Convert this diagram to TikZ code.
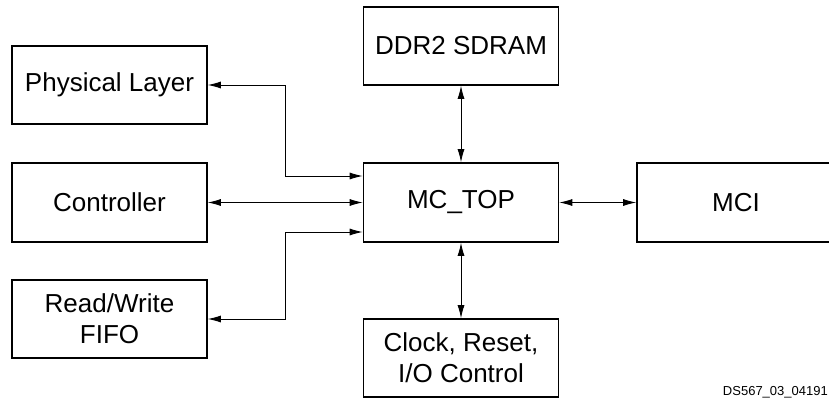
\documentclass[tikz,border=0pt]{standalone}
\usepackage{fontspec}
\setmainfont{Liberation Sans}
\usetikzlibrary{arrows.meta,calc}
\tikzset{
  blk/.style={draw, line width=1.6pt, minimum width=195pt, minimum height=78pt,
    inner sep=0pt, align=center, font=\fontsize{26}{31}\selectfont},
  conn/.style={line width=0.9pt, {Latex[length=13pt,width=7pt]}-{Latex[length=13pt,width=7pt]}},
}
\begin{document}
\begin{tikzpicture}[x=1pt,y=-1pt]
\useasboundingbox (0,0) rectangle (829,401);
\node[blk] (phys) at (109.5,85) {Physical Layer};
\node[blk, minimum height=79pt] (ctrl) at (109.5,202.5) {Controller};
\node[blk] (fifo) at (109.5,319) {Read/Write\\FIFO};
\node[blk] (ddr) at (461,46) {DDR2 SDRAM};
\node[blk, minimum height=79pt] (mctop) at (461,202.5) {MC\_TOP};
\node[blk, minimum height=79pt, minimum width=198pt] (mci) at (736,202.5) {MCI};
\node[blk] (clk) at (461,358) {Clock, Reset,\\I/O Control};
\node[anchor=base east, inner sep=0pt, font=\fontsize{13}{15}\selectfont] (lbl) at (828,395) {DS567\_03\_04191};
\draw[conn] (phys.east) -- ++(78,0) |- ($(mctop.west)+(0,-26.5)$);
\draw[conn] (fifo.east) -- ++(78,0) |- ($(mctop.west)+(0,29.5)$);
\draw[conn] (ctrl.east) -- (mctop.west);
\draw[conn] (ddr.south) -- (mctop.north);
\draw[conn] (mctop.south) -- (clk.north);
\draw[conn] (mctop.east) -- (mci.west);
\end{tikzpicture}
\end{document}
